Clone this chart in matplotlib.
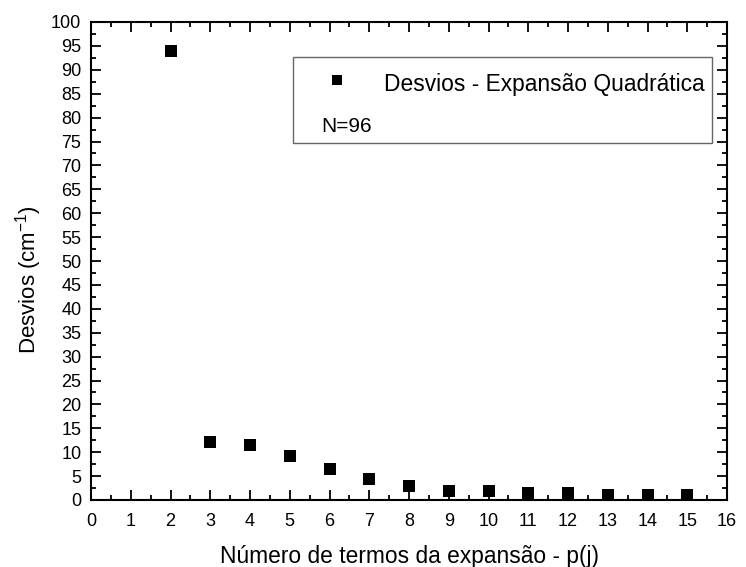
import matplotlib
matplotlib.use("Agg")
import matplotlib.pyplot as plt
from matplotlib.ticker import MultipleLocator

plt.rcParams['font.family'] = ['Liberation Sans', 'DejaVu Sans']
plt.rcParams['mathtext.fontset'] = 'custom'
plt.rcParams['mathtext.rm'] = 'Liberation Sans'

# Number of expansion terms and corresponding deviations
termos = [2, 3, 4, 5, 6, 7, 8, 9, 10, 11, 12, 13, 14, 15]
desvios = [93.9, 12.1, 11.6, 9.2, 6.4, 4.3, 2.9, 1.95, 1.9, 1.4, 1.4, 1.0, 1.0, 1.0]

fig = plt.figure(figsize=(7.46, 5.67), dpi=100)
ax = fig.add_axes([91 / 746, 1 - 500 / 567, (727 - 91) / 746, (500 - 22) / 567])

ax.plot(termos, desvios, linestyle='none', marker='s', markersize=8,
        color='black', markeredgewidth=0)

ax.set_xlim(0, 16)
ax.set_ylim(0, 100)
ax.xaxis.set_major_locator(MultipleLocator(1))
ax.xaxis.set_minor_locator(MultipleLocator(0.5))
ax.yaxis.set_major_locator(MultipleLocator(5))
ax.yaxis.set_minor_locator(MultipleLocator(2.5))

ax.tick_params(which='both', direction='in', top=True, right=True,
               width=1.3, labelsize=13)
ax.tick_params(which='major', length=7)
ax.tick_params(which='minor', length=3.5)
ax.tick_params(axis='x', which='major', pad=9)
ax.tick_params(axis='y', which='major', pad=7)
for sp in ax.spines.values():
    sp.set_linewidth(1.5)

ax.set_xlabel('Número de termos da expansão - p(j)', fontsize=16.4, labelpad=11)
ax.set_ylabel('Desvios (cm$^{-1}$)', fontsize=16, labelpad=5)
ax.yaxis.label.set_y(0.462)

# Legend box with the sample count
box = plt.Rectangle((293 / 746, 1 - 143 / 567), (712 - 293) / 746, (143 - 57) / 567,
                    transform=fig.transFigure, fill=False, edgecolor='#666666',
                    linewidth=1.0)
fig.add_artist(box)
fig.add_artist(plt.Line2D([337 / 746], [1 - 79.5 / 567], marker='s', markersize=7.5,
                          color='black', markeredgewidth=0, transform=fig.transFigure))
fig.text(384 / 746, 1 - 84 / 567, 'Desvios - Expansão Quadrática', fontsize=16.4,
         va='center', ha='left')
fig.text(321 / 746, 1 - 127 / 567, 'N=96', fontsize=15, va='center', ha='left')

fig.savefig('out.png', dpi=100)
